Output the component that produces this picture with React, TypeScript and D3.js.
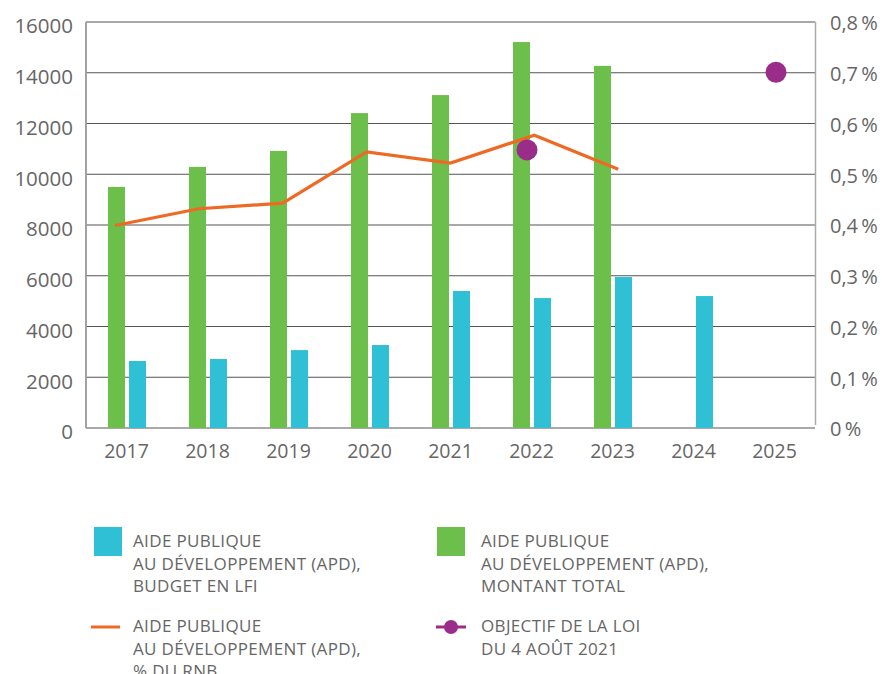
import React from 'react';
import * as d3 from 'd3';

// data
const years = ['2017', '2018', '2019', '2020', '2021', '2022', '2023', '2024', '2025'];
const totalApd = [9500, 10290, 10920, 12410, 13120, 15210, 14270, null, null]; // M€, montant total
const budgetLfi = [2640, 2720, 3070, 3270, 5400, 5120, 5950, 5200, null]; // M€, budget en LFI
const pctRnb = [0.399, 0.432, 0.443, 0.544, 0.522, 0.577, 0.51, null, null]; // % du RNB
const objectif = [null, null, null, null, null, 0.548, null, null, 0.701]; // objectif loi 2021
const leftTicks = [0, 2000, 4000, 6000, 8000, 10000, 12000, 14000, 16000];
const rightTicks = [0, 0.1, 0.2, 0.3, 0.4, 0.5, 0.6, 0.7, 0.8];

const W = 882;
const H = 674;
const m = { left: 86, right: 815, top: 22, bottom: 428 };

const GREEN = '#6cbf4a';
const BLUE = '#2fc0d6';
const ORANGE = '#ee6a24';
const PURPLE = '#9a2d8a';
const TEXT = '#666';
const FONT = '"Open Sans", "DejaVu Sans", sans-serif';

export default function App() {
  const x = d3.scaleBand().domain(years).range([m.left, m.right]).padding(0);
  const yL = d3.scaleLinear().domain([0, 16000]).range([m.bottom, m.top]);
  const yR = d3.scaleLinear().domain([0, 0.8]).range([m.bottom, m.top]);
  // the line and the markers sit slightly off the band centres in the original
  const xLine = d3.scalePoint().domain(years).range([115, 786]);
  const xDot = d3.scalePoint().domain(years).range([112, 776]);

  const linePts = years
    .map((yr, i) => ({ yr, v: pctRnb[i] }))
    .filter((d) => d.v != null);
  const line = d3
    .line<{ yr: string; v: number | null }>()
    .x((d) => xLine(d.yr) as number)
    .y((d) => yR(d.v as number));

  const fmtPct = (v: number) => (v === 0 ? '0\u2009%' : d3.format('.1f')(v).replace('.', ',') + '\u2009%');

  const legend = [
    { kind: 'rect', color: BLUE, x: 94, tx: 133, y: 527, lines: ['AIDE PUBLIQUE', 'AU DÉVELOPPEMENT (APD),', 'BUDGET EN LFI'] },
    { kind: 'rect', color: GREEN, x: 437, tx: 481, y: 527, lines: ['AIDE PUBLIQUE', 'AU DÉVELOPPEMENT (APD),', 'MONTANT TOTAL'] },
    { kind: 'line', color: ORANGE, x: 91, tx: 133, y: 612, lines: ['AIDE PUBLIQUE', 'AU DÉVELOPPEMENT (APD),', '% DU RNB'] },
    { kind: 'dot', color: PURPLE, x: 436, tx: 481, y: 612, lines: ['OBJECTIF DE LA LOI', 'DU 4 AOÛT 2021'] },
  ];

  return (
    <svg width={W} height={H} style={{ position: 'fixed', left: 0, top: 0, background: '#fff' }} fontFamily={FONT}>
      {/* grid */}
      {leftTicks.map((t) => (
        <line key={t} x1={m.left} x2={m.right} y1={yL(t)} y2={yL(t)} stroke="#555" strokeWidth={1.2} />
      ))}
      <line x1={m.left} x2={m.left} y1={m.top} y2={m.bottom} stroke="#999" strokeWidth={1.8} />
      <line x1={m.right + 0.5} x2={m.right + 0.5} y1={m.top} y2={m.bottom - 3} stroke="#aaa" strokeWidth={1.5} />

      {/* bars */}
      {years.map((yr, i) =>
        totalApd[i] != null ? (
          <rect key={'g' + yr} x={(x(yr) as number) + 22} width={17} y={yL(totalApd[i] as number)} height={m.bottom - yL(totalApd[i] as number)} fill={GREEN} />
        ) : null
      )}
      {years.map((yr, i) =>
        budgetLfi[i] != null ? (
          <rect key={'b' + yr} x={(x(yr) as number) + 43} width={17} y={yL(budgetLfi[i] as number)} height={m.bottom - yL(budgetLfi[i] as number)} fill={BLUE} />
        ) : null
      )}

      {/* % RNB line */}
      <path d={line(linePts) || ''} fill="none" stroke={ORANGE} strokeWidth={3.2} strokeLinejoin="miter" />

      {/* objectif markers */}
      {years.map((yr, i) =>
        objectif[i] != null ? <circle key={'o' + yr} cx={xDot(yr)} cy={yR(objectif[i] as number)} r={10.5} fill={PURPLE} /> : null
      )}

      {/* axes labels */}
      {leftTicks.map((t) => (
        <text key={'l' + t} x={73} y={yL(t) + 6} textAnchor="end" dominantBaseline="middle" fontSize={20.5} fill={TEXT}>
          {t}
        </text>
      ))}
      {rightTicks.map((t) => (
        <text key={'r' + t} x={830} y={yR(t) + 3} dominantBaseline="middle" fontSize={20} fill={TEXT}>
          {fmtPct(t)}
        </text>
      ))}
      {years.map((yr) => (
        <text key={'x' + yr} x={(x(yr) as number) + x.bandwidth() / 2} y={453} textAnchor="middle" dominantBaseline="middle" fontSize={19.5} fill={TEXT}>
          {yr}
        </text>
      ))}

      {/* legend */}
      {legend.map((l, i) => (
        <g key={'lg' + i}>
          {l.kind === 'rect' && <rect x={l.x} y={l.y} width={28} height={29} fill={l.color} />}
          {l.kind === 'line' && <line x1={l.x} x2={l.x + 29} y1={l.y + 15} y2={l.y + 15} stroke={l.color} strokeWidth={3} />}
          {l.kind === 'dot' && (
            <g>
              <line x1={l.x} x2={l.x + 30} y1={l.y + 15} y2={l.y + 15} stroke={l.color} strokeWidth={3} />
              <circle cx={l.x + 15} cy={l.y + 15} r={7} fill={l.color} />
            </g>
          )}
          {l.lines.map((s, j) => (
            <text key={j} x={l.tx} y={l.y + 20 + j * 22.5} fontSize={17} fill={TEXT} letterSpacing={0.35}>
              {s}
            </text>
          ))}
        </g>
      ))}
    </svg>
  );
}
